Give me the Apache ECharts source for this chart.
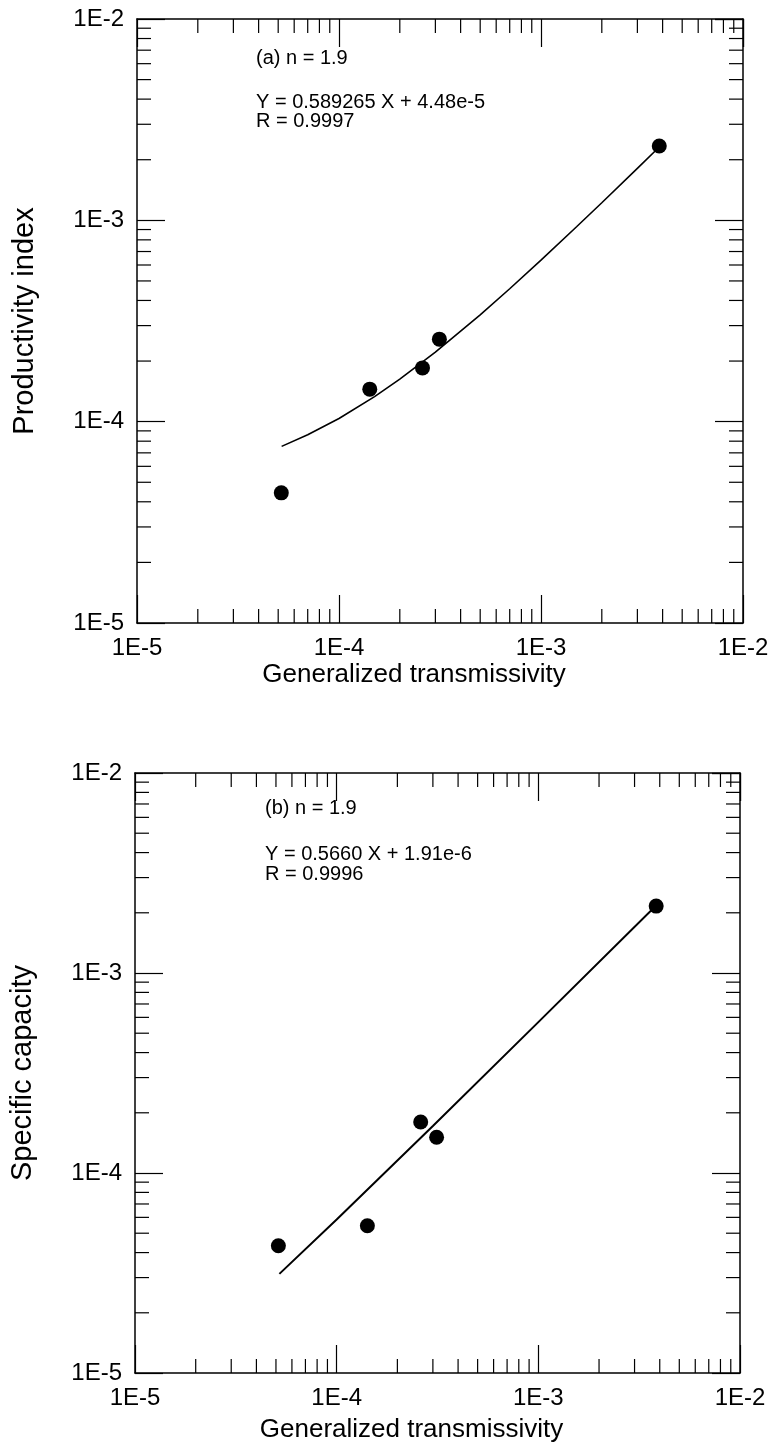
<!DOCTYPE html>
<html><head><meta charset="utf-8">
<script src="https://cdn.jsdelivr.net/npm/echarts@6/dist/echarts.min.js"></script>
<style>html,body{margin:0;padding:0;background:#fff}#c{width:773px;height:1451px}</style>
</head><body><div id="c"></div>
<script>
// ---- axis ranges / ticks ----
const AXIS_MIN = 1e-5;
const AXIS_MAX = 1e-2;
const tickLabels = ['1E-5', '1E-4', '1E-3', '1E-2'];
const decades = [1e-5, 1e-4, 1e-3];
const minorMultipliers = [2, 3, 4, 5, 6, 7, 8, 9];

// ---- panel (a): productivity index ----
const topPointsX = [5.18e-5, 1.42e-4, 2.59e-4, 3.14e-4, 3.85e-3];
const topPointsY = [4.43e-5, 1.45e-4, 1.85e-4, 2.57e-4, 2.34e-3];
const topFitX = [5.2e-5, 7e-5, 1e-4, 1.5e-4, 2e-4, 3e-4, 5e-4, 7e-4, 1e-3, 1.5e-3, 2e-3, 3e-3, 3.85e-3];
const topFitY = [7.54e-5, 8.61e-5, 1.037e-4, 1.332e-4, 1.627e-4, 2.216e-4, 3.394e-4, 4.573e-4, 6.34e-4, 9.29e-4, 1.223e-3, 1.813e-3, 2.313e-3];
const topTexts = ['(a) n = 1.9', 'Y = 0.589265 X + 4.48e-5', 'R = 0.9997'];

// ---- panel (b): specific capacity ----
const botPointsX = [5.14e-5, 1.42e-4, 2.61e-4, 3.13e-4, 3.84e-3];
const botPointsY = [4.33e-5, 5.45e-5, 1.80e-4, 1.51e-4, 2.16e-3];
const botFitX = [5.2e-5, 1e-4, 3e-4, 1e-3, 3.85e-3];
const botFitY = [3.13e-5, 5.85e-5, 1.717e-4, 5.68e-4, 2.18e-3];
const botTexts = ['(b) n = 1.9', 'Y = 0.5660 X + 1.91e-6', 'R = 0.9996'];

const xName = 'Generalized transmissivity';
const yNameTop = 'Productivity index';
const yNameBot = 'Specific capacity';

// ---- build ----
const FONT = "'Liberation Sans', Arial, Helvetica, sans-serif";
const minorTicks = [];
decades.forEach(d => minorMultipliers.forEach(m => minorTicks.push(d * m)));
const zip = (a, b) => a.map((v, i) => [v, b[i]]);
const fmt = v => tickLabels[Math.round(Math.log10(v) - Math.log10(AXIS_MIN))] || '';

const axisLine = { show: true, lineStyle: { color: '#000', width: 1.5 } };
const majorTick = { show: true, inside: true, length: 28, lineStyle: { color: '#000', width: 1.2 } };

function xAxes(grid, nameGap) {
  return [
    { gridIndex: grid, type: 'log', logBase: 10, min: AXIS_MIN, max: AXIS_MAX, position: 'bottom',
      axisLine, axisTick: majorTick, splitLine: { show: false },
      axisLabel: { formatter: fmt, color: '#000', fontSize: 24, fontFamily: FONT, margin: 13 },
      name: xName, nameLocation: 'middle', nameGap: nameGap,
      nameTextStyle: { color: '#000', fontSize: 26, fontFamily: FONT, padding: [0, 52, 0, 0] } },
    { gridIndex: grid, type: 'log', logBase: 10, min: AXIS_MIN, max: AXIS_MAX, position: 'top',
      axisLine, axisTick: majorTick, splitLine: { show: false }, axisLabel: { show: false } }
  ];
}
function yAxes(grid, name, nameGap) {
  return [
    { gridIndex: grid, type: 'log', logBase: 10, min: AXIS_MIN, max: AXIS_MAX, position: 'left',
      axisLine, axisTick: majorTick, splitLine: { show: false },
      axisLabel: { formatter: fmt, color: '#000', fontSize: 24, fontFamily: FONT, margin: 13 },
      name: name, nameLocation: 'middle', nameGap: nameGap,
      nameTextStyle: { color: '#000', fontSize: 29, fontFamily: FONT } },
    { gridIndex: grid, type: 'log', logBase: 10, min: AXIS_MIN, max: AXIS_MAX, position: 'right',
      axisLine, axisTick: majorTick, splitLine: { show: false }, axisLabel: { show: false } }
  ];
}

const MINOR = 14;
const tickStyle = { stroke: '#000', lineWidth: 1.2 };
function xMinorSeries(xi, yi) {
  return {
    type: 'custom', xAxisIndex: xi, yAxisIndex: yi, silent: true, animation: false, z: 1,
    data: minorTicks.map(v => [v, AXIS_MIN]), encode: { x: 0, y: 1 },
    renderItem: (params, api) => {
      const v = api.value(0);
      const b = api.coord([v, AXIS_MIN]);
      const t = api.coord([v, AXIS_MAX]);
      return { type: 'group', children: [
        { type: 'line', shape: { x1: b[0], y1: b[1], x2: b[0], y2: b[1] - MINOR }, style: tickStyle },
        { type: 'line', shape: { x1: t[0], y1: t[1], x2: t[0], y2: t[1] + MINOR }, style: tickStyle }
      ] };
    }
  };
}
function yMinorSeries(xi, yi) {
  return {
    type: 'custom', xAxisIndex: xi, yAxisIndex: yi, silent: true, animation: false, z: 1,
    data: minorTicks.map(v => [AXIS_MIN, v]), encode: { x: 0, y: 1 },
    renderItem: (params, api) => {
      const v = api.value(1);
      const l = api.coord([AXIS_MIN, v]);
      const r = api.coord([AXIS_MAX, v]);
      return { type: 'group', children: [
        { type: 'line', shape: { x1: l[0], y1: l[1], x2: l[0] + MINOR, y2: l[1] }, style: tickStyle },
        { type: 'line', shape: { x1: r[0], y1: r[1], x2: r[0] - MINOR, y2: r[1] }, style: tickStyle }
      ] };
    }
  };
}
function dataSeries(xi, yi, px, py, fx, fy, lw) {
  return [
    { type: 'line', xAxisIndex: xi, yAxisIndex: yi, data: zip(fx, fy), showSymbol: false, symbol: 'none',
      lineStyle: { color: '#000', width: lw }, animation: false, z: 2 },
    { type: 'scatter', xAxisIndex: xi, yAxisIndex: yi, data: zip(px, py), symbol: 'circle', symbolSize: 15,
      itemStyle: { color: '#000', opacity: 1 }, animation: false, z: 3 }
  ];
}
function texts(lines, x, ys) {
  return lines.map((t, i) => ({
    type: 'text', x: x, y: ys[i],
    style: { text: t, fill: '#000', font: '20px ' + FONT, verticalAlign: 'middle', align: 'left' }
  }));
}

const chart = echarts.init(document.getElementById('c'), null, { renderer: 'canvas' });
chart.setOption({
  backgroundColor: '#fff',
  animation: false,
  grid: [
    { left: 137, top: 19, width: 606, height: 604 },
    { left: 134, top: 773, width: 606, height: 600 }
  ],
  xAxis: [...xAxes(0, 39), ...xAxes(1, 44)],
  yAxis: [...yAxes(0, yNameTop, 98), ...yAxes(1, yNameBot, 98)],
  series: [
    xMinorSeries(0, 0), yMinorSeries(0, 0),
    ...dataSeries(0, 0, topPointsX, topPointsY, topFitX, topFitY, 1.6),
    xMinorSeries(2, 2), yMinorSeries(2, 2),
    ...dataSeries(2, 2, botPointsX, botPointsY, botFitX, botFitY, 2)
  ],
  graphic: [
    ...texts(topTexts, 256, [58, 102, 121]),
    ...texts(botTexts, 265, [808, 854, 874])
  ]
});
</script></body></html>
